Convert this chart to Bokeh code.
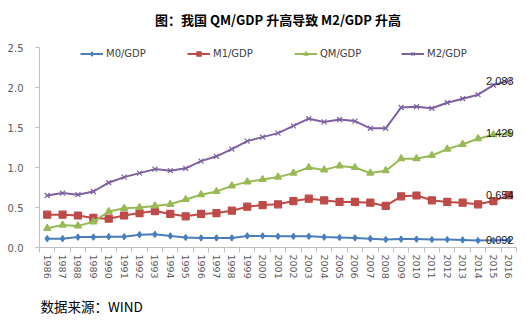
from bokeh.plotting import figure
from bokeh.models import Range1d, FixedTicker, Legend, LegendItem, Title, NumeralTickFormatter
from bokeh.core.properties import value
from bokeh.embed import file_html
from bokeh.resources import INLINE

years = list(range(1986, 2017))
m0 = [0.11, 0.11, 0.13, 0.13, 0.135, 0.135, 0.16, 0.165, 0.145, 0.125, 0.12, 0.12, 0.12, 0.145, 0.145,
      0.14, 0.14, 0.14, 0.13, 0.125, 0.12, 0.11, 0.10, 0.105, 0.105, 0.10, 0.10, 0.095, 0.088, 0.09, 0.092]
m1 = [0.41, 0.41, 0.40, 0.37, 0.36, 0.40, 0.43, 0.455, 0.42, 0.39, 0.42, 0.43, 0.46, 0.51, 0.53,
      0.54, 0.58, 0.61, 0.59, 0.57, 0.57, 0.56, 0.52, 0.64, 0.65, 0.59, 0.57, 0.56, 0.54, 0.58, 0.654]
qm = [0.24, 0.28, 0.27, 0.32, 0.45, 0.49, 0.50, 0.52, 0.54, 0.60, 0.66, 0.70, 0.77, 0.82, 0.85,
      0.88, 0.93, 1.00, 0.97, 1.02, 1.00, 0.93, 0.96, 1.11, 1.11, 1.15, 1.23, 1.29, 1.36, 1.41, 1.429]
m2 = [0.65, 0.68, 0.66, 0.70, 0.81, 0.88, 0.93, 0.98, 0.96, 0.99, 1.08, 1.14, 1.23, 1.33, 1.38,
      1.43, 1.52, 1.61, 1.57, 1.60, 1.58, 1.49, 1.49, 1.75, 1.76, 1.74, 1.81, 1.86, 1.91, 2.03, 2.083]
names = ["M0/GDP", "M1/GDP", "QM/GDP", "M2/GDP"]
y_ticks = [0, 0.5, 1.0, 1.5, 2.0, 2.5]
title_text = "图：我国 QM/GDP 升高导致 M2/GDP 升高"
source_text = "数据来源：WIND"

colors = ["#4A7EBB", "#BE4B48", "#98B954", "#7D60A0"]
markers = ["diamond", "square", "triangle", "x"]
msizes = [6, 7, 7, 7]

p = figure(width=526, height=321, output_backend="svg", toolbar_location=None,
           x_range=Range1d(1985.5, 2016.5), y_range=Range1d(0, 2.5),
           min_border_left=39, min_border_right=10, min_border_top=47, min_border_bottom=74)
p.outline_line_color = None
p.xgrid.visible = False
p.ygrid.visible = False
p.background_fill_color = "white"

yax = p.yaxis[0]
yax.ticker = FixedTicker(ticks=y_ticks)
yax.formatter = NumeralTickFormatter(format="0.0")
yax.axis_line_color = "#BFBFBF"
yax.major_tick_line_color = "#BFBFBF"
yax.major_tick_out = 4
yax.major_tick_in = 0
yax.minor_tick_line_color = None
yax.major_label_standoff = 12
yax.major_label_text_font = "DejaVu Sans"
yax.major_label_text_font_size = "10px"
yax.major_label_text_color = "#595959"

xax = p.xaxis[0]
xax.ticker = FixedTicker(ticks=years, minor_ticks=[y - 0.5 for y in years] + [years[-1] + 0.5])
xax.major_label_overrides = {y: str(y) for y in years}
xax.axis_line_color = "#BFBFBF"
xax.major_tick_line_color = None
xax.major_tick_out = 0
xax.major_tick_in = 0
xax.minor_tick_line_color = "#BFBFBF"
xax.minor_tick_out = 5
xax.minor_tick_in = 0
xax.major_label_orientation = "vertical"
xax.major_label_standoff = 2
xax.major_label_text_font = "DejaVu Sans"
xax.major_label_text_font_size = "9.5px"
xax.major_label_text_color = "#595959"

items = []
for vals, name, c, m, s in zip([m0, m1, qm, m2], names, colors, markers, msizes):
    ln = p.line(years, vals, line_color=c, line_width=2)
    sc = p.scatter(years, vals, marker=m, size=s, fill_color=c, line_color=c, line_width=1.2)
    items.append(LegendItem(label=name, renderers=[ln, sc]))

last_vals = [m0[-1], m1[-1], qm[-1], m2[-1]]
p.text(x=[years[-1]] * 4, y=last_vals, text=[f"{v:.3f}" for v in last_vals],
       x_offset=-9, text_align="center", text_baseline="middle",
       text_font=value("Liberation Sans"), text_font_size="11px", text_color="#1a1a1a")

legend = Legend(items=items, orientation="horizontal", location=(41, 188),
                glyph_width=23, glyph_height=11, label_width=80, label_height=11,
                label_standoff=3, spacing=1, padding=0, margin=0,
                border_line_color=None, background_fill_alpha=0,
                label_text_font="DejaVu Sans", label_text_font_size="10px",
                label_text_color="#404040")
p.add_layout(legend)

top_title = Title(text=title_text + "\n ", align="center", offset=0, standoff=0,
                  text_font="Noto Sans CJK SC", text_font_style="bold",
                  text_font_size="13px", text_color="#000000")
p.add_layout(top_title, "above")

foot = Title(text=" \n" + source_text, align="left", offset=1, standoff=0,
             text_line_height=0.67,
             text_font="Noto Sans CJK SC", text_font_style="normal",
             text_font_size="13.5px", text_color="#000000")
p.add_layout(foot, "below")

open("out.html", "w").write(file_html(p, INLINE))
